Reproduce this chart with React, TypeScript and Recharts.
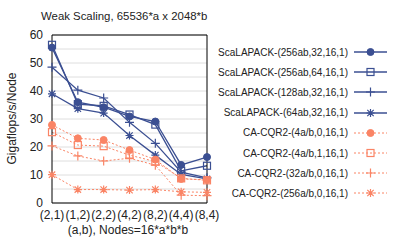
import { LineChart, Line, XAxis, YAxis, CartesianGrid, Legend } from 'recharts';

const BLUE = '#3b4f92';
const ORANGE = '#fa8465';
const FONT = '"Liberation Sans", Arial, Helvetica, sans-serif';

const categories = ['(2,1)', '(1,2)', '(2,2)', '(4,2)', '(8,2)', '(4,4)', '(8,4)'];
const yTicks = [0, 5, 10, 15, 20, 25, 30, 35, 40, 45, 50, 55, 60];

const scalapack256x32 = [55.5, 36.0, 34.2, 30.9, 29.1, 13.6, 16.4];
const scalapack256x64 = [56.5, 35.3, 34.7, 31.6, 28.0, 11.5, 13.3];
const scalapack128x32 = [48.5, 40.3, 37.5, 28.8, 21.3, 11.0, 9.0];
const scalapack64x32 = [39.0, 33.7, 32.1, 24.1, 17.1, 10.2, 8.6];
const cqr4x0 = [27.9, 23.1, 22.5, 18.9, 15.5, 8.6, 8.3];
const cqr4x1 = [25.3, 20.7, 20.3, 17.1, 14.8, 8.8, 8.1];
const cqr32x0 = [20.4, 16.8, 15.0, 16.0, 13.5, 2.8, 2.6];
const cqr256x0 = [10.1, 4.8, 4.8, 4.6, 4.8, 4.0, 3.8];

const series = [
    { key: 's1', name: 'ScaLAPACK-(256ab,32,16,1)', color: BLUE, shape: 'circle', dashed: false, values: scalapack256x32 },
    { key: 's2', name: 'ScaLAPACK-(256ab,64,16,1)', color: BLUE, shape: 'square', dashed: false, values: scalapack256x64 },
    { key: 's3', name: 'ScaLAPACK-(128ab,32,16,1)', color: BLUE, shape: 'plus', dashed: false, values: scalapack128x32 },
    { key: 's4', name: 'ScaLAPACK-(64ab,32,16,1)', color: BLUE, shape: 'star', dashed: false, values: scalapack64x32 },
    { key: 'c1', name: 'CA-CQR2-(4a/b,0,16,1)', color: ORANGE, shape: 'circle', dashed: true, values: cqr4x0 },
    { key: 'c2', name: 'CA-CQR2-(4a/b,1,16,1)', color: ORANGE, shape: 'square', dashed: true, values: cqr4x1 },
    { key: 'c3', name: 'CA-CQR2-(32a/b,0,16,1)', color: ORANGE, shape: 'plus', dashed: true, values: cqr32x0 },
    { key: 'c4', name: 'CA-CQR2-(256a/b,0,16,1)', color: ORANGE, shape: 'star', dashed: true, values: cqr256x0 },
];

const data = categories.map((name, i) => {
    const row: any = { name };
    series.forEach((s) => {
        row[s.key] = s.values[i];
    });
    return row;
});

const Marker = ({ cx, cy, shape, color }) => {
    if (cx == null || cy == null) return null;
    if (shape === 'circle') {
        return <circle cx={cx} cy={cy} r={3.5} fill={color} stroke={color} />;
    }
    if (shape === 'square') {
        return <rect x={cx - 3.5} y={cy - 3.5} width={7} height={7} fill="none" stroke={color} strokeWidth={1.2} />;
    }
    if (shape === 'plus') {
        return (
            <path
                d={`M${cx - 4.5},${cy}H${cx + 4.5}M${cx},${cy - 4.5}V${cy + 4.5}`}
                stroke={color}
                strokeWidth={1.2}
            />
        );
    }
    const d = 3.2;
    return (
        <path
            d={`M${cx - 4},${cy}H${cx + 4}M${cx},${cy - 4}V${cy + 4}M${cx - d},${cy - d}L${cx + d},${cy + d}M${cx - d},${cy + d}L${cx + d},${cy - d}`}
            stroke={color}
            strokeWidth={1.2}
        />
    );
};

const makeDot = (shape, color) => (props) => (
    <Marker key={`${shape}-${props.index}`} cx={props.cx} cy={props.cy} shape={shape} color={color} />
);

const LegendContent = () => (
    <div style={{ fontFamily: FONT, fontSize: 10, color: '#222' }}>
        {series.map((s) => (
            <div key={s.key} style={{ display: 'flex', alignItems: 'center', height: 20.2 }}>
                <span style={{ width: 148, textAlign: 'right', whiteSpace: 'nowrap' }}>{s.name}</span>
                <svg width={34} height={12} style={{ marginLeft: 6 }}>
                    <line
                        x1={0}
                        y1={6}
                        x2={33}
                        y2={6}
                        stroke={s.color}
                        strokeWidth={s.dashed ? 1 : 1.3}
                        strokeDasharray={s.dashed ? '2 2' : undefined}
                    />
                    <Marker cx={16.5} cy={6} shape={s.shape} color={s.color} />
                </svg>
            </div>
        ))}
    </div>
);

export default function App() {
    return (
        <div style={{ position: 'absolute', left: 0, top: 0 }}>
            <LineChart
                width={399}
                height={242}
                data={data}
                margin={{ top: 35, right: 192, left: 0, bottom: 0 }}
                style={{ fontFamily: FONT }}
            >
                <CartesianGrid vertical={false} stroke="#dedede" strokeWidth={1} />
                <XAxis
                    dataKey="name"
                    height={39}
                    interval={0}
                    tickLine={false}
                    tickSize={4}
                    tickMargin={3}
                    axisLine={{ stroke: '#000' }}
                    tick={{ fill: '#222', fontSize: 12 }}
                />
                <XAxis xAxisId="bm" dataKey="name" mirror interval={0} tick={false} axisLine={false} tickSize={5} stroke="#000" />
                <XAxis xAxisId="tm" dataKey="name" orientation="top" mirror interval={0} tick={false} tickSize={5} stroke="#000" />
                <YAxis
                    width={52}
                    domain={[0, 60]}
                    ticks={yTicks}
                    interval={0}
                    tickLine={false}
                    tickSize={6}
                    tickMargin={3}
                    axisLine={{ stroke: '#000' }}
                    tick={{ fill: '#222', fontSize: 12 }}
                    tickFormatter={(v) => (v % 10 === 0 ? String(v) : '')}
                />
                <YAxis yAxisId="lm" domain={[0, 60]} ticks={yTicks} interval={0} mirror tick={false} axisLine={false} tickSize={5} stroke="#000" />
                <YAxis yAxisId="rm" orientation="right" domain={[0, 60]} ticks={yTicks} interval={0} mirror tick={false} tickSize={5} stroke="#000" />
                {series.map((s) => (
                    <Line
                        key={s.key}
                        dataKey={s.key}
                        name={s.name}
                        type="linear"
                        stroke={s.color}
                        strokeWidth={s.dashed ? 1 : 1.3}
                        strokeDasharray={s.dashed ? '2 2' : undefined}
                        dot={makeDot(s.shape, s.color)}
                        activeDot={false}
                        isAnimationActive={false}
                    />
                ))}
                <Legend
                    layout="vertical"
                    align="center"
                    verticalAlign="middle"
                    content={<LegendContent />}
                    wrapperStyle={{ left: 200, top: 42, width: 199 }}
                />
                <text x={41} y={20} fontSize={11.4} fill="#222" fontFamily={FONT}>
                    Weak Scaling, 65536*a x 2048*b
                </text>
                <text
                    x={16}
                    y={118.5}
                    fontSize={12}
                    fill="#222"
                    fontFamily={FONT}
                    textAnchor="middle"
                    transform="rotate(-90 16 118.5)"
                >
                    Gigaflops/s/Node
                </text>
                <text x={128} y={234} fontSize={12} fill="#222" fontFamily={FONT} textAnchor="middle">
                    (a,b), Nodes=16*a*b*b
                </text>
            </LineChart>
        </div>
    );
}
